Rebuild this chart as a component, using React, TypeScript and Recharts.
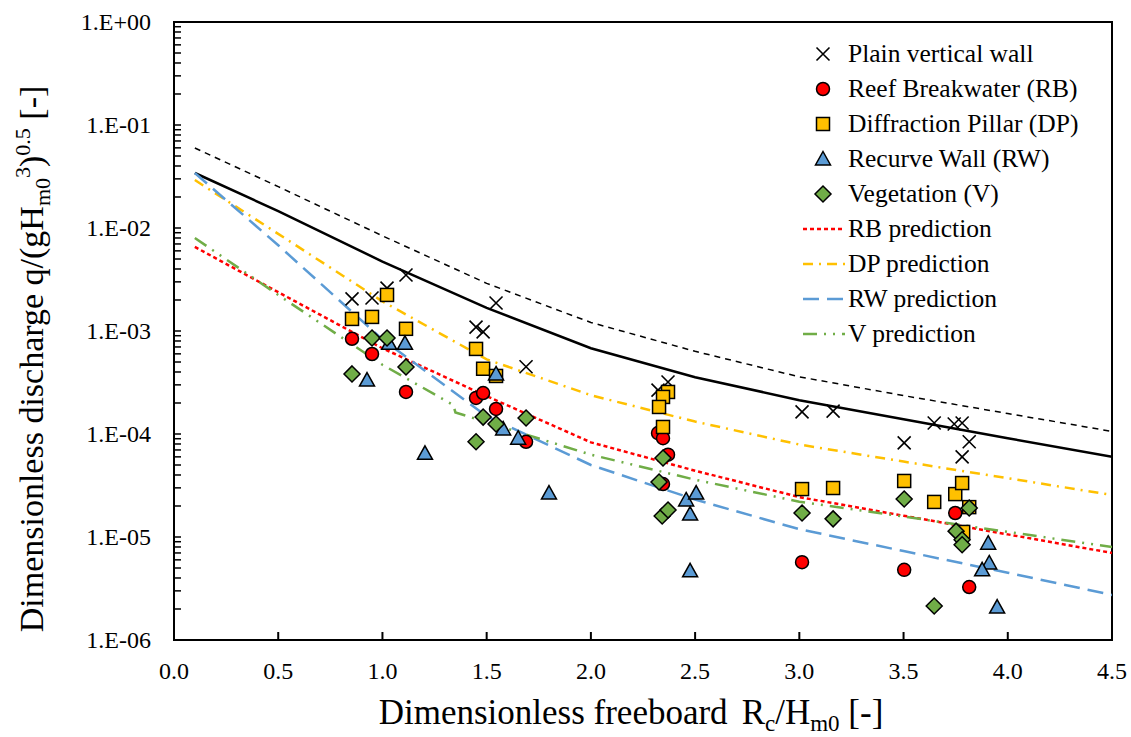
import React from "react";
import {
  ComposedChart,
  Scatter,
  Line,
  XAxis,
  YAxis,
  Legend,
  ReferenceArea,
} from "recharts";

const FONT = '"Liberation Serif", "Times New Roman", serif';

// measured points: Rc/Hm0 and q/(gHm0^3)^0.5
const plainRc = [0.854, 0.95, 1.022, 1.113, 1.449, 1.483, 1.545, 1.689, 2.322, 2.37, 3.013, 3.162, 3.647, 3.743, 3.781, 3.503, 3.815, 3.781];
const plainQ = [2.05e-3, 2.09e-3, 2.61e-3, 3.5e-3, 1.09e-3, 9.8e-4, 1.87e-3, 4.5e-4, 2.67e-4, 3.2e-4, 1.64e-4, 1.67e-4, 1.28e-4, 1.25e-4, 1.28e-4, 8.2e-5, 8.4e-5, 6.0e-5];

const rbRc = [0.854, 0.95, 1.113, 1.449, 1.483, 1.545, 1.689, 2.322, 2.346, 2.37, 2.346, 3.013, 3.503, 3.748, 3.815];
const rbQ = [8.4e-4, 5.98e-4, 2.56e-4, 2.24e-4, 2.5e-4, 1.75e-4, 8.4e-5, 1.02e-4, 9.1e-5, 6.3e-5, 3.27e-5, 5.7e-6, 4.8e-6, 1.71e-5, 3.27e-6];

const dpRc = [0.854, 0.95, 1.022, 1.113, 1.449, 1.483, 1.545, 2.37, 2.346, 2.327, 2.346, 3.013, 3.162, 3.503, 3.647, 3.748, 3.781, 3.815, 3.786];
const dpQ = [1.31e-3, 1.37e-3, 2.24e-3, 1.05e-3, 6.7e-4, 4.3e-4, 3.66e-4, 2.56e-4, 2.29e-4, 1.83e-4, 1.17e-4, 2.92e-5, 2.99e-5, 3.5e-5, 2.19e-5, 2.61e-5, 3.34e-5, 1.95e-5, 1.12e-5];

const rwRc = [0.926, 1.032, 1.108, 1.204, 1.545, 1.579, 1.651, 1.799, 2.457, 2.505, 2.476, 2.476, 3.906, 3.911, 3.877, 3.949];
const rwQ = [3.34e-4, 7.6e-4, 7.6e-4, 6.5e-5, 3.83e-4, 1.12e-4, 9.1e-5, 2.67e-5, 2.29e-5, 2.67e-5, 1.67e-5, 4.7e-6, 8.7e-6, 5.6e-6, 4.8e-6, 2.09e-6];

const vRc = [0.854, 0.95, 1.022, 1.113, 1.449, 1.483, 1.545, 1.689, 2.346, 2.327, 2.342, 2.37, 3.013, 3.162, 3.503, 3.647, 3.752, 3.781, 3.781, 3.815];
const vQ = [3.83e-4, 8.55e-4, 8.55e-4, 4.47e-4, 8.4e-5, 1.46e-4, 1.25e-4, 1.43e-4, 5.85e-5, 3.42e-5, 1.6e-5, 1.83e-5, 1.71e-5, 1.5e-5, 2.34e-5, 2.14e-6, 1.14e-5, 9.4e-6, 8.4e-6, 1.91e-5];

// prediction curves, read at these Rc/Hm0 values
const rcGrid = [0.1, 0.5, 1.0, 1.5, 2.0, 2.5, 3.0, 3.5, 4.0, 4.5];
const plainFit = [3.42e-2, 1.46e-2, 4.72e-3, 1.68e-3, 6.8e-4, 3.56e-4, 2.13e-4, 1.39e-4, 9.1e-5, 6.0e-5];
const plainUpper = [5.98e-2, 2.52e-2, 8.4e-3, 2.9e-3, 1.21e-3, 6.35e-4, 3.59e-4, 2.36e-4, 1.58e-4, 1.06e-4];
const rbPred = [6.55e-3, 2.38e-3, 6.8e-4, 2.33e-4, 8.3e-5, 4.4e-5, 2.44e-5, 1.61e-5, 1.06e-5, 7.0e-6];
const dpPred = [2.92e-2, 8.77e-3, 1.94e-3, 5.3e-4, 2.38e-4, 1.32e-4, 7.9e-5, 5.4e-5, 3.72e-5, 2.56e-5];
const rwPred = [3.42e-2, 6.8e-3, 8.3e-4, 1.49e-4, 5.0e-5, 2.31e-5, 1.19e-5, 7.3e-6, 4.5e-6, 2.74e-6];
// the V curve has a small step near 1.34
const vGrid = [0.1, 0.5, 1.0, 1.34, 1.35, 1.5, 2.0, 2.5, 3.0, 3.5, 4.0, 4.5];
const vPred = [8.0e-3, 2.24e-3, 4.7e-4, 1.91e-4, 1.62e-4, 1.3e-4, 6.3e-5, 3.6e-5, 2.2e-5, 1.58e-5, 1.12e-5, 8.0e-6];

const yMajor = [1e-6, 1e-5, 1e-4, 1e-3, 1e-2, 1e-1, 1];
const yLabels = ["1.E-06", "1.E-05", "1.E-04", "1.E-03", "1.E-02", "1.E-01", "1.E+00"];
const xTicks = [0, 0.5, 1.0, 1.5, 2.0, 2.5, 3.0, 3.5, 4.0, 4.5];
const yTicks = [
  ...yMajor,
  ...yMajor.slice(0, -1).flatMap((d) => [2, 3, 4, 5, 6, 7, 8, 9].map((m) => m * d)),
];

const pts = (xs: number[], ys: number[]) => xs.map((x, i) => ({ x, y: ys[i] }));

const RED = "#FF0000";
const GOLD = "#FFC000";
const BLUE = "#5B9BD5";
const GREEN = "#70AD47";

type Kind = "cross" | "circle" | "square" | "triangle" | "diamond" | "line";

function Marker({ kind, cx, cy, fill }: { kind: Kind; cx: number; cy: number; fill?: string }) {
  const s = { stroke: "#000", strokeWidth: 1.5, fill };
  if (kind === "cross")
    return (
      <path
        d={`M${cx - 6.5},${cy - 6.5}L${cx + 6.5},${cy + 6.5}M${cx - 6.5},${cy + 6.5}L${cx + 6.5},${cy - 6.5}`}
        stroke="#000"
        strokeWidth={1.6}
      />
    );
  if (kind === "circle") return <circle cx={cx} cy={cy} r={6.5} {...s} />;
  if (kind === "square") return <rect x={cx - 6.5} y={cy - 6.5} width={13} height={13} {...s} />;
  if (kind === "triangle")
    return <path d={`M${cx},${cy - 7.5}L${cx + 7.5},${cy + 6}L${cx - 7.5},${cy + 6}Z`} {...s} />;
  return <path d={`M${cx},${cy - 8}L${cx + 8},${cy}L${cx},${cy + 8}L${cx - 8},${cy}Z`} {...s} />;
}

const shapeOf = (kind: Kind, fill?: string) => (p: any) =>
  <Marker kind={kind} cx={p.cx} cy={p.cy} fill={fill} />;

const legendItems: { name: string; kind: Kind; color: string; dash?: string }[] = [
  { name: "Plain vertical wall", kind: "cross", color: "#000" },
  { name: "Reef Breakwater (RB)", kind: "circle", color: RED },
  { name: "Diffraction Pillar (DP)", kind: "square", color: GOLD },
  { name: "Recurve Wall (RW)", kind: "triangle", color: BLUE },
  { name: "Vegetation (V)", kind: "diamond", color: GREEN },
  { name: "RB prediction", kind: "line", color: RED, dash: "4 3" },
  { name: "DP prediction", kind: "line", color: GOLD, dash: "10 6 2 6" },
  { name: "RW prediction", kind: "line", color: BLUE, dash: "16 8" },
  { name: "V prediction", kind: "line", color: GREEN, dash: "14 7 2 7 2 7" },
];

function LegendBox() {
  return (
    <svg width={320} height={320} style={{ display: "block" }}>
      {legendItems.map((it, i) => {
        const y = 19 + i * 35;
        return (
          <g key={it.name}>
            {it.kind === "line" ? (
              <line x1={8} x2={50} y1={y} y2={y} stroke={it.color} strokeWidth={2.5} strokeDasharray={it.dash} />
            ) : (
              <Marker kind={it.kind} cx={28} cy={y} fill={it.color} />
            )}
            <text x={53} y={y + 8} fontSize={25.5} fontFamily={FONT} fill="#000">
              {it.name}
            </text>
          </g>
        );
      })}
    </svg>
  );
}

function YTick({ x, y, payload }: any) {
  const i = yMajor.indexOf(payload.value);
  if (i < 0) return null;
  return (
    <text x={x} y={y} dy="0.35em" textAnchor="end" fontSize={24} fontFamily={FONT} fill="#000">
      {yLabels[i]}
    </text>
  );
}

function XTick({ x, y, payload }: any) {
  return (
    <text x={x} y={y} textAnchor="middle" fontSize={24} fontFamily={FONT} fill="#000">
      {Number(payload.value).toFixed(1)}
    </text>
  );
}

function XTitle({ viewBox }: any) {
  const cx = viewBox.x + viewBox.width / 2 - 12;
  return (
    <text x={cx} y={viewBox.y + 84} textAnchor="middle" fontSize={35} fontFamily={FONT} fill="#000">
      <tspan>Dimensionless freeboard</tspan>
      <tspan dx={14}>R</tspan>
      <tspan dy={7} fontSize={23}>c</tspan>
      <tspan dy={-7}>/H</tspan>
      <tspan dy={7} fontSize={23}>m0</tspan>
      <tspan dy={-7}> [-]</tspan>
    </text>
  );
}

function YTitle({ viewBox }: any) {
  const cy = viewBox.y + viewBox.height / 2 + 28;
  return (
    <text
      transform={`translate(43, ${cy}) rotate(-90)`}
      textAnchor="middle"
      fontSize={34}
      fontFamily={FONT}
      fill="#000"
    >
      <tspan>Dimensionless discharge q/(gH</tspan>
      <tspan dy={7} fontSize={22}>m0</tspan>
      <tspan dy={-20} fontSize={22}>3</tspan>
      <tspan dy={13}>)</tspan>
      <tspan dy={-13} fontSize={22}>0.5</tspan>
      <tspan dy={13}> [-]</tspan>
    </text>
  );
}

export default function App() {
  return (
    <div style={{ position: "absolute", left: 0, top: 0, background: "#fff" }}>
      <ComposedChart width={1131} height={737} margin={{ top: 22, right: 19, left: 0, bottom: 0 }}>
        <XAxis
          type="number"
          dataKey="x"
          domain={[0, 4.5]}
          ticks={xTicks}
          allowDataOverflow
          height={97}
          axisLine={{ stroke: "#000", strokeWidth: 2 }}
          tickLine={{ stroke: "#000", strokeWidth: 2 }}
          tickSize={-8}
          tickMargin={47}
          tick={<XTick />}
          label={<XTitle />}
        />
        <YAxis
          type="number"
          dataKey="y"
          scale="log"
          domain={[1e-6, 1]}
          ticks={yTicks}
          allowDataOverflow
          width={174}
          axisLine={{ stroke: "#000", strokeWidth: 2 }}
          tickLine={{ stroke: "#000", strokeWidth: 1.5 }}
          tickSize={-7}
          tickMargin={30}
          tick={<YTick />}
          interval={0}
          label={<YTitle />}
        />
        <ReferenceArea x1={0} x2={4.5} y1={1e-6} y2={1} fill="none" stroke="#000" strokeWidth={2} />

        <Line data={pts(rcGrid, plainUpper)} dataKey="y" type="linear" stroke="#000" strokeWidth={1.5} strokeDasharray="6 5" dot={false} activeDot={false} isAnimationActive={false} />
        <Line data={pts(rcGrid, plainFit)} dataKey="y" type="linear" stroke="#000" strokeWidth={2.5} dot={false} activeDot={false} isAnimationActive={false} />

        <Scatter name="Plain vertical wall" data={pts(plainRc, plainQ)} shape={shapeOf("cross")} isAnimationActive={false} />
        <Scatter name="Reef Breakwater (RB)" data={pts(rbRc, rbQ)} shape={shapeOf("circle", RED)} isAnimationActive={false} />
        <Scatter name="Diffraction Pillar (DP)" data={pts(dpRc, dpQ)} shape={shapeOf("square", GOLD)} isAnimationActive={false} />
        <Scatter name="Recurve Wall (RW)" data={pts(rwRc, rwQ)} shape={shapeOf("triangle", BLUE)} isAnimationActive={false} />
        <Scatter name="Vegetation (V)" data={pts(vRc, vQ)} shape={shapeOf("diamond", GREEN)} isAnimationActive={false} />

        <Line name="RB prediction" data={pts(rcGrid, rbPred)} dataKey="y" type="linear" stroke={RED} strokeWidth={2.5} strokeDasharray="4 3" dot={false} activeDot={false} isAnimationActive={false} />
        <Line name="DP prediction" data={pts(rcGrid, dpPred)} dataKey="y" type="linear" stroke={GOLD} strokeWidth={2.5} strokeDasharray="10 6 2 6" dot={false} activeDot={false} isAnimationActive={false} />
        <Line name="RW prediction" data={pts(rcGrid, rwPred)} dataKey="y" type="linear" stroke={BLUE} strokeWidth={2.5} strokeDasharray="16 8" dot={false} activeDot={false} isAnimationActive={false} />
        <Line name="V prediction" data={pts(vGrid, vPred)} dataKey="y" type="linear" stroke={GREEN} strokeWidth={2.5} strokeDasharray="14 7 2 7 2 7" dot={false} activeDot={false} isAnimationActive={false} />

        <Legend
          layout="horizontal"
          verticalAlign="middle"
          align="center"
          content={() => <LegendBox />}
          wrapperStyle={{ top: 35, left: 795, width: 320, height: 320 }}
        />
      </ComposedChart>
    </div>
  );
}
